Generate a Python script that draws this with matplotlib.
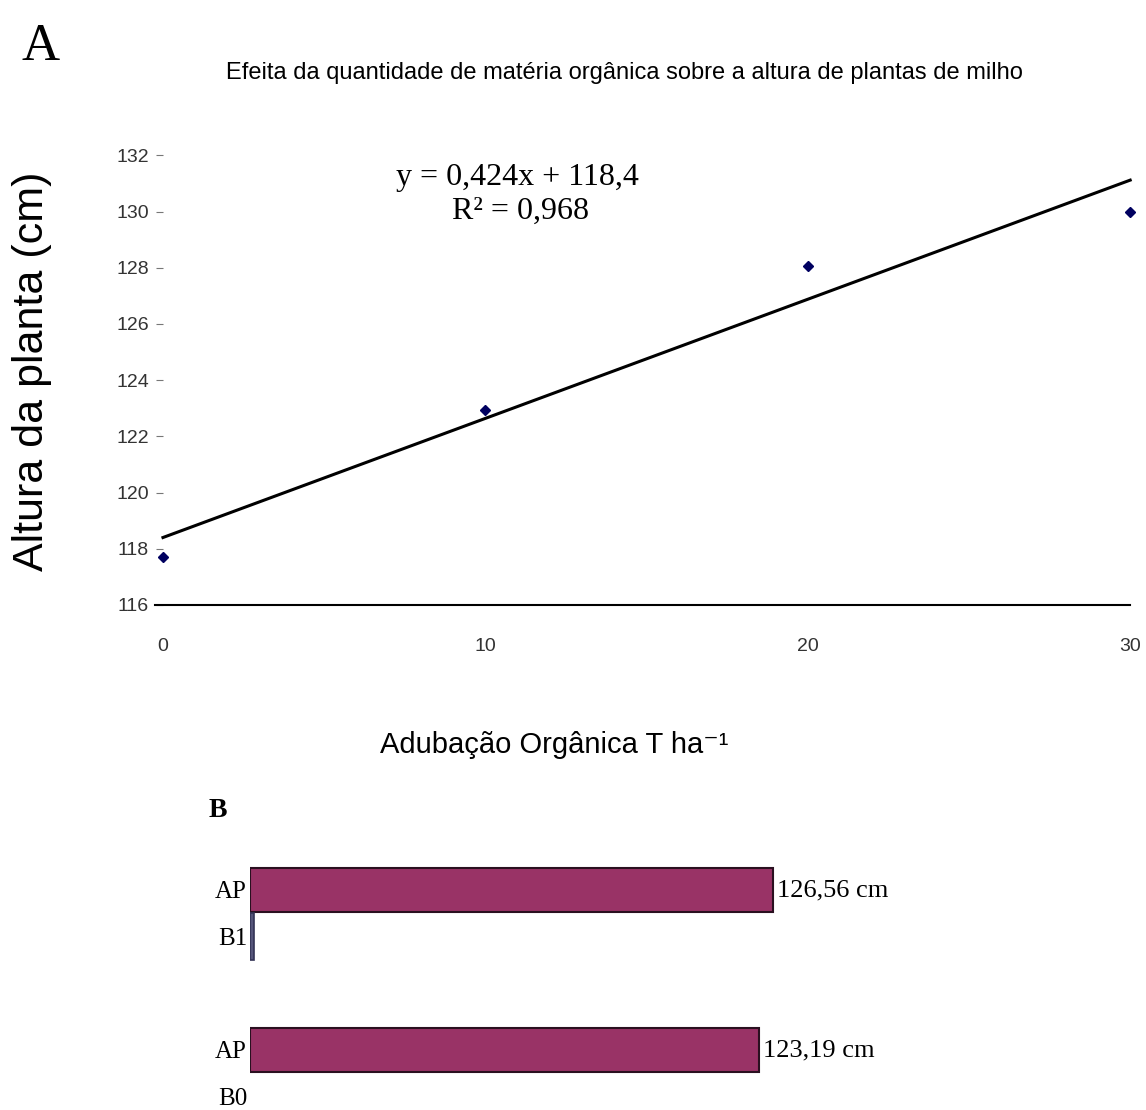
import matplotlib.pyplot as plt
import numpy as np

# dados - grafico A
dose = [0, 10, 20, 30]
altura = [117.7, 122.95, 128.05, 130.0]
coef_a = 0.424
coef_b = 118.4
yticks_a = [116, 118, 120, 122, 124, 126, 128, 130, 132]

# dados - grafico B
grupos = ['B1', 'B0']
grupo_pos = [1, 0]
ap_valores = [126.56, 123.19]
ap_rotulos = ['126,56 cm', '123,19 cm']
b_valores = [0.9, 0.0]

fig = plt.figure(figsize=(11.46, 11.10), dpi=100)

sans = ['Liberation Sans', 'DejaVu Sans']
narrow = ['Liberation Sans Narrow', 'Liberation Sans', 'DejaVu Sans']
serif = ['Liberation Serif', 'DejaVu Serif']

# ---- A ----
ax = fig.add_axes([0.1422, 0.455, 0.844, 0.405])
xs = np.array([0, 30])
ax.plot(xs, coef_a * xs + coef_b, color='black', lw=2.2, clip_on=False)
ax.plot(dose, altura, 'D', color='#000060', ms=5, clip_on=False)
ax.set_xlim(0, 30)
ax.set_ylim(116, 132)
ax.set_yticks(yticks_a)
ax.set_xticks([0, 10, 20, 30])
for s in ['top', 'right', 'left']:
    ax.spines[s].set_visible(False)
ax.spines['bottom'].set_linewidth(1.5)
ax.spines['bottom'].set_bounds(-0.25, 30)
ax.tick_params(axis='y', length=5, color='#777777', pad=5, labelcolor='#333333')
ax.tick_params(axis='x', length=0, pad=24, labelcolor='#333333')
for lab in ax.get_xticklabels() + ax.get_yticklabels():
    lab.set_family(sans)
    lab.set_fontsize(14)

ax.set_ylabel('Altura da planta (cm)', family=sans, fontsize=31)
ax.yaxis.set_label_coords(-0.115, 0.52)
ax.set_xlabel('Adubação Orgânica T ha⁻¹', family=sans, fontsize=21)
ax.xaxis.set_label_coords(0.405, -0.28)

ax.text(0.366, 0.95, 'y = 0,424x + 118,4', transform=ax.transAxes, family=serif,
        fontsize=23, ha='center', va='center')
ax.text(0.370, 0.875, 'R² = 0,968', transform=ax.transAxes, family=serif,
        fontsize=23, ha='center', va='center')

fig.text(0.545, 0.934, 'Efeita da quantidade de matéria orgânica sobre a altura de plantas de milho',
         family=narrow, fontsize=17, ha='center', va='center')
fig.text(0.035, 0.958, 'A', family=serif, fontsize=38, ha='center', va='center')

# ---- B ----
bx = fig.add_axes([0.218, 0.0, 0.541, 260 / 1110])
bx.barh(grupo_pos, ap_valores, height=0.28, color='#993366', edgecolor='#2a1020', lw=1.5)
b_pos = [p - 0.29 for p, v in zip(grupo_pos, b_valores) if v > 0]
b_val = [v for v in b_valores if v > 0]
bx.barh(b_pos, b_val, height=0.29, color='#55557a', edgecolor='#333355', lw=1.2)
bx.set_xlim(0, 150)
bx.set_ylim(-0.375, 1.25)
ticks = []
labels = []
for g, p in zip(grupos, grupo_pos):
    ticks += [p, p - 0.29]
    labels += ['AP', g]
bx.set_yticks(ticks)
bx.set_yticklabels(labels, family=serif, fontsize=18)
bx.set_xticks([])
bx.tick_params(axis='y', length=0, pad=2)
for s in bx.spines.values():
    s.set_visible(False)
for p, v, r in zip(grupo_pos, ap_valores, ap_rotulos):
    bx.text(v + 1, p, r, family=serif, fontsize=19, va='center', ha='left')

fig.text(0.19, 0.27, 'B', family=serif, fontsize=20, weight='bold', ha='center', va='center')

plt.savefig('out.png', dpi=100)
